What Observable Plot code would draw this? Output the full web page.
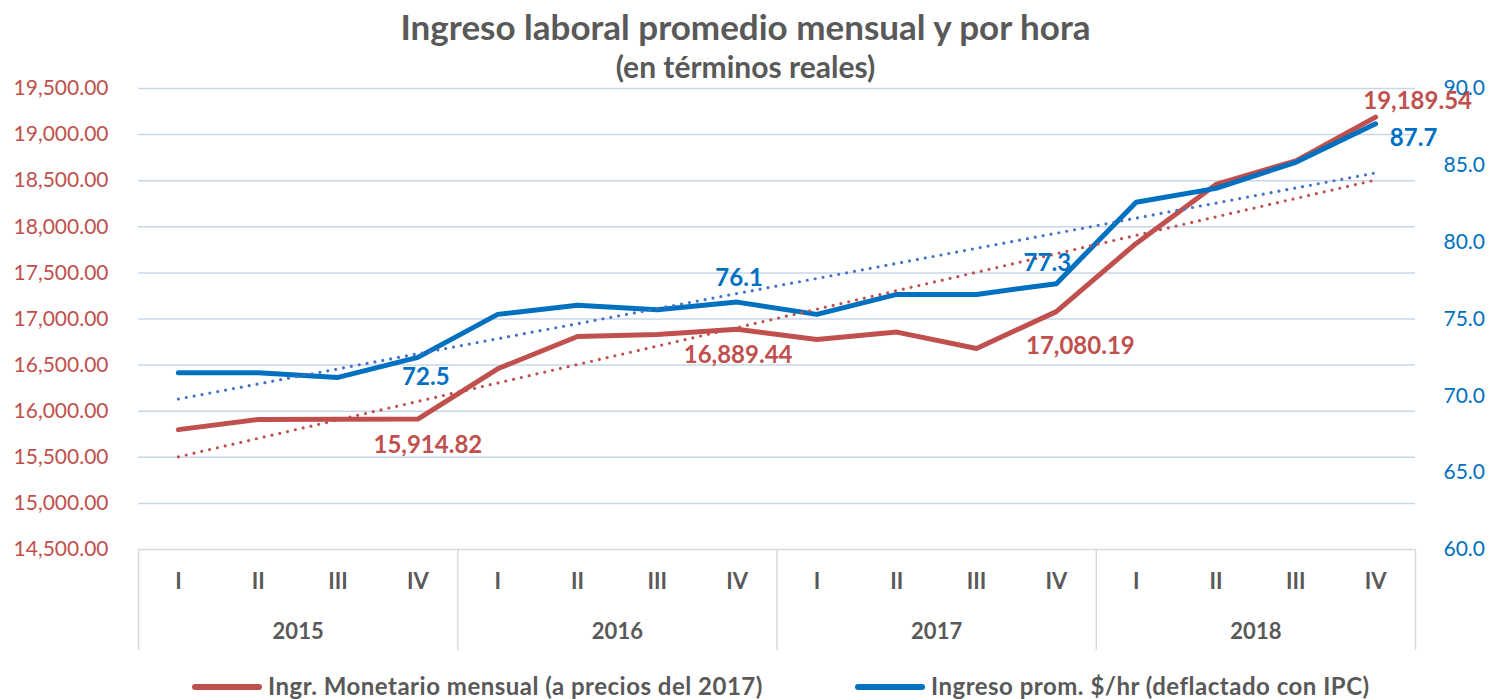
<!DOCTYPE html>
<html><head><meta charset="utf-8">
<script src="https://cdn.jsdelivr.net/npm/d3@7"></script>
<script src="https://cdn.jsdelivr.net/npm/@observablehq/plot@0.6"></script>
<style>
body{margin:0;background:#fff;font-family:Lato,"Open Sans",sans-serif;}
#wrap{position:relative;width:1491px;height:699px;overflow:hidden;}
#chart{position:absolute;left:0;top:58px;}
#title{position:absolute;left:0;width:1491px;top:4px;text-align:center;font-weight:bold;font-size:35px;color:#595959;line-height:44px;}
#subtitle{position:absolute;left:0;width:1491px;top:48px;text-align:center;font-weight:bold;font-size:30px;color:#595959;line-height:36px;}
#legend{position:absolute;left:0;top:671px;width:1491px;height:30px;font-weight:bold;font-size:24px;letter-spacing:0.5px;color:#595959;}
.item{position:absolute;top:0;line-height:30px;white-space:nowrap;}
.sw{display:inline-block;width:70px;height:6px;border-radius:3px;vertical-align:middle;margin-right:6px;position:relative;top:-2px;}
</style></head>
<body>
<div id="wrap">
<div id="chart"></div>
<div id="title">Ingreso laboral promedio mensual y por hora</div>
<div id="subtitle">(en términos reales)</div>
<div id="legend">
<div class="item" style="left:192px"><span class="sw" style="background:#c0504d"></span>Ingr. Monetario mensual (a precios del 2017)</div>
<div class="item" style="left:855px"><span class="sw" style="background:#0070c0"></span>Ingreso prom. $/hr (deflactado con IPC)</div>
</div>
</div>
<script>
const quarters = ["I","II","III","IV","I","II","III","IV","I","II","III","IV","I","II","III","IV"];
const years = ["2015","2016","2017","2018"];
const ingrMensual = [15800, 15910, 15914, 15914.82, 16460, 16810, 16832, 16889.44, 16778, 16858, 16680, 17080.19, 17820, 18460, 18715, 19189.54];
const ingrHora = [71.5, 71.5, 71.2, 72.5, 75.3, 75.9, 75.6, 76.1, 75.3, 76.6, 76.6, 77.3, 82.6, 83.5, 85.2, 87.7];
const leftTicks = [14500,15000,15500,16000,16500,17000,17500,18000,18500,19000,19500];
const rightTicks = [60,65,70,75,80,85,90];

const RED = "#c0504d", BLUE = "#0070c0", RED_T = "#c0504d", BLUE_T = "#4472c4";
// map right-axis values onto the left scale (60..90 -> 14500..19500)
const toLeft = v => 14500 + (v - 60) * 5000 / 30;
const fromLeft = y => 60 + (y - 14500) * 30 / 5000;

const data = quarters.map((q, i) => ({i, q, m: ingrMensual[i], h: ingrHora[i], hl: toLeft(ingrHora[i])}));

const fmt2 = d3.format(",.2f");
const labelIdx = [3, 7, 11, 15];
const redOff = {3: [10, 26], 7: [1, 26], 11: [24, 35], 15: [42, -16]};
const blueOff = {3: [8, 20], 7: [2, -24], 11: [-9, -20], 15: [38, 14]};

const labelMarks = [];
for (const k of labelIdx) {
  labelMarks.push(Plot.text(data.filter(d => d.i === k), {x: "i", y: "m", text: d => fmt2(d.m), fill: RED, fontWeight: "bold", fontSize: 24, dx: redOff[k][0], dy: redOff[k][1]}));
  labelMarks.push(Plot.text(data.filter(d => d.i === k), {x: "i", y: "hl", text: d => d.h.toFixed(1), fill: BLUE, fontWeight: "bold", fontSize: 24, dx: blueOff[k][0], dy: blueOff[k][1]}));
}

const chart = Plot.plot({
  width: 1491,
  height: 600,
  marginLeft: 138,
  marginRight: 76,
  marginTop: 30,
  marginBottom: 109,
  style: {fontFamily: "Lato, 'Open Sans', sans-serif", background: "none"},
  x: {type: "linear", domain: [-0.5, 15.5]},
  y: {domain: [14500, 19500]},
  marks: [
    Plot.gridY(leftTicks.slice(1), {stroke: "#c9d6ea", strokeOpacity: 1, strokeWidth: 1.5}),
    Plot.ruleY([14500], {stroke: "#d9d9d9", strokeWidth: 1.5}),
    Plot.axisY(leftTicks, {anchor: "left", label: null, tickSize: 0, tickPadding: 30, tickFormat: fmt2, fill: RED, fontSize: 21}),
    Plot.axisY(rightTicks.map(toLeft), {anchor: "right", label: null, tickSize: 0, tickPadding: 28, tickFormat: d => fromLeft(d).toFixed(1), fill: BLUE, fontSize: 21}),
    Plot.axisX([-0.5, 3.5, 7.5, 11.5, 15.5], {anchor: "bottom", label: null, tickSize: 101, tickFormat: () => "", stroke: "#d9d9d9", strokeWidth: 1.5}),
    Plot.axisX(d3.range(16), {anchor: "bottom", label: null, tickSize: 0, tickPadding: 24, tickFormat: i => quarters[i], fill: "#595959", fontWeight: "bold", fontSize: 22}),
    Plot.axisX([1.5, 5.5, 9.5, 13.5], {anchor: "bottom", label: null, tickSize: 0, tickPadding: 74, tickFormat: (d, j) => years[j], fill: "#595959", fontWeight: "bold", fontSize: 22}),
    Plot.lineY(data, {x: "i", y: "m", stroke: RED, strokeWidth: 5}),
    Plot.lineY(data, {x: "i", y: "hl", stroke: BLUE, strokeWidth: 5}),
    Plot.linearRegressionY(data, {x: "i", y: "m", stroke: RED_T, strokeWidth: 3.2, strokeDasharray: "0 8", strokeLinecap: "round", ci: 0}),
    Plot.linearRegressionY(data, {x: "i", y: "hl", stroke: BLUE_T, strokeWidth: 3.2, strokeDasharray: "0 8", strokeLinecap: "round", ci: 0}),
    ...labelMarks
  ]
});
document.getElementById("chart").appendChild(chart);
</script>
</body></html>
